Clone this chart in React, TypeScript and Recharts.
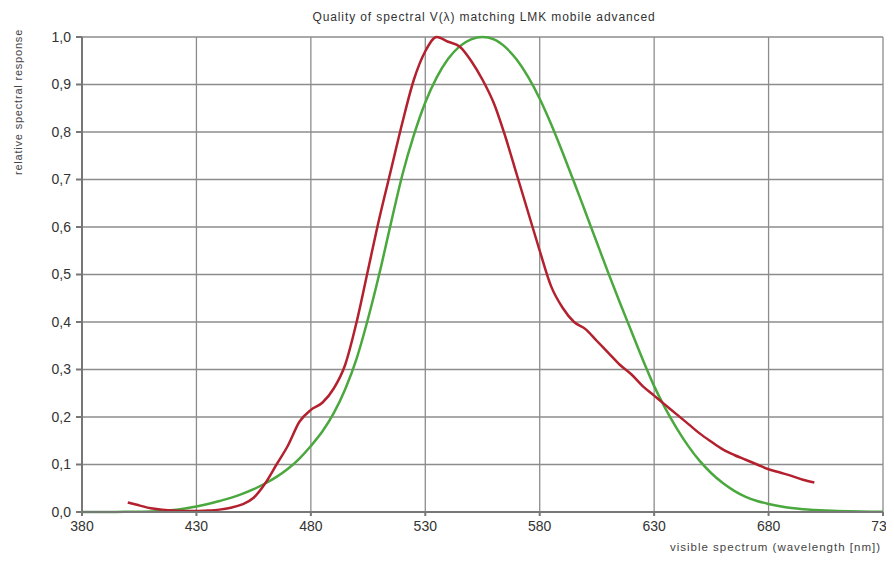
import { LineChart, Line, XAxis, YAxis, CartesianGrid } from 'recharts'

// wavelength grid (nm)
const wavelengths = [
  380, 385, 390, 395, 400, 405, 410, 415, 420, 425, 430, 435, 440, 445, 450, 455,
  460, 465, 470, 475, 480, 485, 490, 495, 500, 505, 510, 515, 520, 525, 530, 535,
  540, 545, 550, 555, 560, 565, 570, 575, 580, 585, 590, 595, 600, 605, 610, 615,
  620, 625, 630, 635, 640, 645, 650, 655, 660, 665, 670, 675, 680, 685, 690, 695,
  700, 705, 710, 715, 720, 725, 730
]

// V(lambda) reference curve (green)
const vLambda = [
  0.00004, 0.00006, 0.00012, 0.0002, 0.0004, 0.0006, 0.0012, 0.0022, 0.004, 0.0073, 0.0116, 0.0168,
  0.023, 0.0298, 0.038, 0.048, 0.06, 0.0739, 0.091, 0.1126, 0.139, 0.1693, 0.208, 0.2586,
  0.323, 0.4073, 0.503, 0.6082, 0.71, 0.7932, 0.862, 0.9149, 0.954, 0.9803, 0.995, 1.0,
  0.995, 0.9786, 0.952, 0.9154, 0.87, 0.8163, 0.757, 0.6949, 0.631, 0.5668, 0.503, 0.4412,
  0.381, 0.321, 0.265, 0.217, 0.175, 0.1382, 0.107, 0.0816, 0.061, 0.0446, 0.032, 0.0232,
  0.017, 0.0119, 0.0082, 0.0057, 0.0041, 0.0029, 0.0021, 0.0015, 0.001, 0.0007, 0.0005
]

// measured LMK mobile advanced response (red), only 400-700 nm
const lmkResponse = [
  null, null, null, null,
  0.02, 0.014, 0.008, 0.005, 0.003, 0.002, 0.002, 0.003, 0.005, 0.009, 0.016, 0.03,
  0.06, 0.1, 0.14, 0.19, 0.215, 0.23, 0.26, 0.31, 0.4, 0.51, 0.62, 0.72,
  0.82, 0.91, 0.97, 1.0, 0.99, 0.98, 0.95, 0.91, 0.86, 0.79, 0.71, 0.63,
  0.55, 0.475, 0.43, 0.4, 0.385, 0.36, 0.335, 0.31, 0.29, 0.265, 0.245, 0.225,
  0.205, 0.185, 0.165, 0.148, 0.132, 0.12, 0.11, 0.1, 0.09, 0.083, 0.076, 0.068,
  0.062,
  null, null, null, null, null, null
]

const xTicks = [380, 430, 480, 530, 580, 630, 680, 730]
const yTicks = [0, 0.1, 0.2, 0.3, 0.4, 0.5, 0.6, 0.7, 0.8, 0.9, 1.0]

const data = wavelengths.map((wl, i) => ({ wl, v: vLambda[i], lmk: lmkResponse[i] }))

const font = '"Liberation Sans", Arial, sans-serif'

export default function App() {
  return (
    <div style={{ position: 'relative', width: 894, height: 579, margin: -8, background: '#fff', fontFamily: font, overflow: 'hidden' }}>
      {/* dark strip on the left edge */}
      <div style={{ position: 'absolute', left: 0, top: 0, width: 5, height: 579, background: '#000' }} />

      <div style={{ position: 'absolute', left: 0, right: 0, top: 10, textAlign: 'center', paddingLeft: 74, fontSize: 12, letterSpacing: 0.9, color: '#333' }}>
        Quality of spectral V(λ) matching LMK mobile advanced
      </div>

      <div style={{ position: 'absolute', left: 18, top: 102, transform: 'translate(-50%, -50%) rotate(-90deg)', whiteSpace: 'nowrap', fontSize: 11, letterSpacing: 0.8, color: '#444' }}>
        relative spectral response
      </div>

      <div style={{ position: 'absolute', right: 13, top: 541, fontSize: 11.5, letterSpacing: 1, color: '#444' }}>
        visible spectrum (wavelength [nm])
      </div>

      <div style={{ position: 'absolute', left: 0, top: 0 }}>
        <LineChart width={894} height={579} data={data} margin={{ top: 37, right: 11, bottom: 37, left: 0 }} style={{ overflow: 'visible' }}>
          <CartesianGrid stroke="#8c8c8c" strokeWidth={1.3} />
          <XAxis
            dataKey="wl"
            type="number"
            domain={[380, 730]}
            ticks={xTicks}
            height={30}
            tickSize={4}
            tickMargin={5}
            stroke="#777"
            strokeWidth={2}
            tick={{ fill: '#333', fontSize: 14, fontFamily: font }}
          />
          <YAxis
            type="number"
            domain={[0, 1]}
            ticks={yTicks}
            width={82}
            tickSize={6}
            tickMargin={5}
            stroke="#777"
            strokeWidth={2}
            tickFormatter={(v: number) => v.toFixed(1).replace('.', ',')}
            tick={{ fill: '#333', fontSize: 14, fontFamily: font }}
          />
          <Line dataKey="v" type="monotone" stroke="#4aa83e" strokeWidth={2.5} dot={false} isAnimationActive={false} />
          <Line dataKey="lmk" type="monotone" stroke="#b3202e" strokeWidth={2.5} dot={false} isAnimationActive={false} />
        </LineChart>
      </div>
    </div>
  )
}
